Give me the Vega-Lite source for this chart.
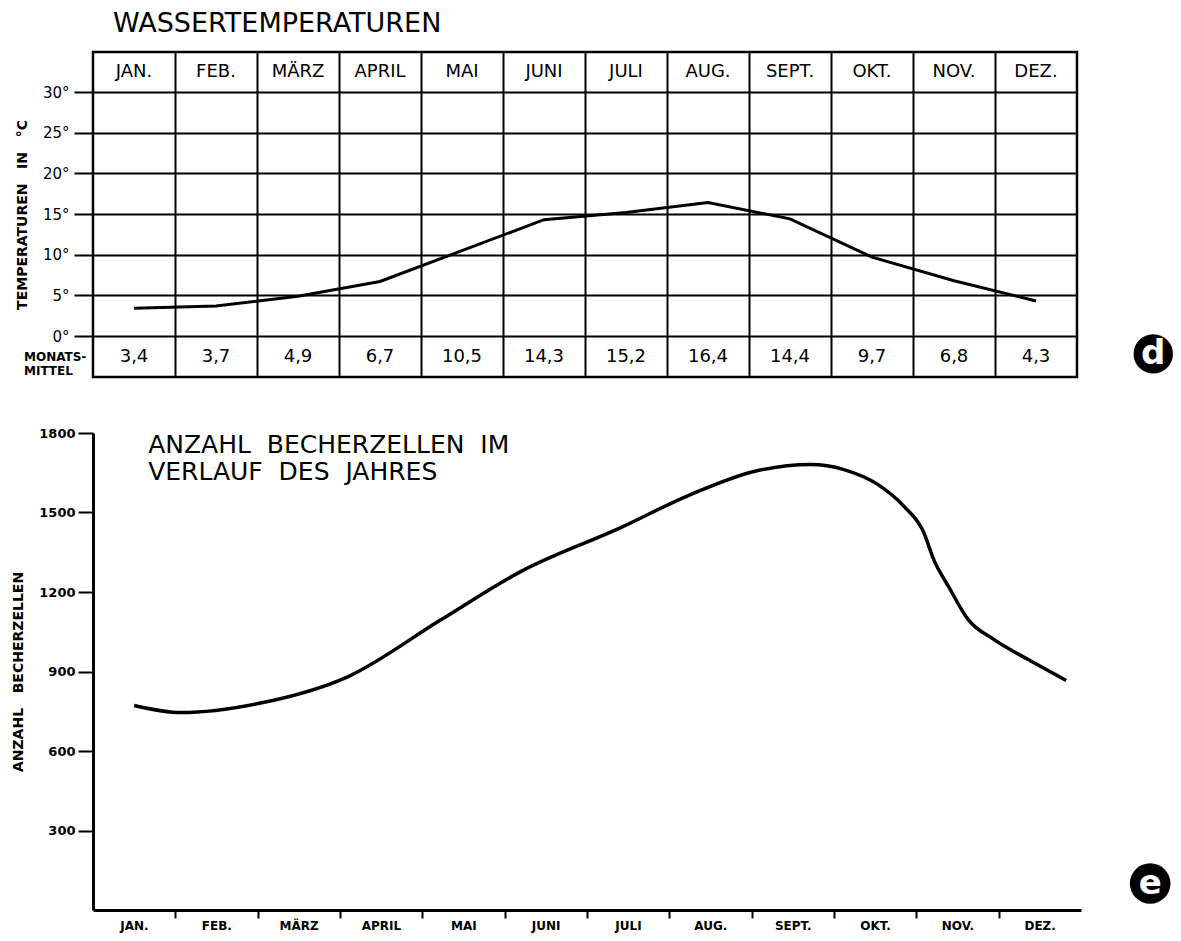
{
  "$schema": "https://vega.github.io/schema/vega-lite/v6.json",
  "background": "white",
  "padding": {"left": 11, "top": 8, "right": 2, "bottom": 2},
  "bounds": "flush",
  "spacing": 56,
  "config": {
    "font": "DejaVu Sans",
    "view": {"stroke": null},
    "axis": {"domainColor": "black", "tickColor": "black", "labelColor": "black", "titleColor": "black", "gridColor": "black", "labelFont": "DejaVu Sans", "titleFont": "DejaVu Sans"}
  },
  "datasets": {
    "temp": [
      {"m": 1, "month": "JAN.", "temp": 3.4, "label": "3,4"},
      {"m": 2, "month": "FEB.", "temp": 3.7, "label": "3,7"},
      {"m": 3, "month": "MÄRZ", "temp": 4.9, "label": "4,9"},
      {"m": 4, "month": "APRIL", "temp": 6.7, "label": "6,7"},
      {"m": 5, "month": "MAI", "temp": 10.5, "label": "10,5"},
      {"m": 6, "month": "JUNI", "temp": 14.3, "label": "14,3"},
      {"m": 7, "month": "JULI", "temp": 15.2, "label": "15,2"},
      {"m": 8, "month": "AUG.", "temp": 16.4, "label": "16,4"},
      {"m": 9, "month": "SEPT.", "temp": 14.4, "label": "14,4"},
      {"m": 10, "month": "OKT.", "temp": 9.7, "label": "9,7"},
      {"m": 11, "month": "NOV.", "temp": 6.8, "label": "6,8"},
      {"m": 12, "month": "DEZ.", "temp": 4.3, "label": "4,3"}
    ],
    "cells": [
      {"t": 1.0, "n": 772},
      {"t": 1.57, "n": 745},
      {"t": 2.52, "n": 780},
      {"t": 3.6, "n": 881},
      {"t": 4.73, "n": 1096},
      {"t": 5.7, "n": 1278},
      {"t": 6.91, "n": 1443},
      {"t": 7.73, "n": 1564},
      {"t": 8.53, "n": 1655},
      {"t": 9.22, "n": 1681},
      {"t": 9.62, "n": 1662},
      {"t": 10.03, "n": 1606},
      {"t": 10.35, "n": 1523},
      {"t": 10.59, "n": 1425},
      {"t": 10.71, "n": 1323},
      {"t": 10.89, "n": 1221},
      {"t": 11.13, "n": 1096},
      {"t": 11.44, "n": 1021},
      {"t": 11.86, "n": 945},
      {"t": 12.32, "n": 866}
    ]
  },
  "vconcat": [
    {
      "width": 984,
      "height": 325,
      "view": {"stroke": "black", "strokeWidth": 2.5},
      "title": {"text": "WASSERTEMPERATUREN", "anchor": "start", "frame": "group", "dx": 20, "fontSize": 27, "fontWeight": "normal", "offset": 14, "font": "DejaVu Sans", "color": "black"},
      "layer": [
        {
          "data": {"name": "temp"},
          "mark": {"type": "line", "color": "black", "strokeWidth": 3},
          "encoding": {
            "x": {
              "field": "m", "type": "quantitative",
              "scale": {"domain": [0.5, 12.5], "nice": false, "zero": false},
              "axis": {"orient": "top", "values": [1.5, 2.5, 3.5, 4.5, 5.5, 6.5, 7.5, 8.5, 9.5, 10.5, 11.5], "grid": true, "gridWidth": 2, "gridOpacity": 1, "labels": false, "ticks": false, "domain": false, "title": null}
            },
            "y": {
              "field": "temp", "type": "quantitative",
              "scale": {"domain": [-5.04, 34.92], "nice": false, "zero": false},
              "axis": {"values": [0, 5, 10, 15, 20, 25, 30], "grid": true, "gridWidth": 2, "gridOpacity": 1, "labelExpr": "datum.value + '°'", "tickSize": 19, "tickWidth": 2, "labelPadding": 5, "labelFontSize": 15, "domain": false, "title": "TEMPERATUREN\u00a0\u00a0\u00a0IN\u00a0\u00a0\u00a0°C", "titleFontSize": 14, "titleFontWeight": "bold", "titlePadding": 13}
            }
          }
        },
        {
          "data": {"name": "temp"},
          "mark": {"type": "text", "fontSize": 18, "baseline": "middle", "align": "center", "color": "black"},
          "encoding": {
            "x": {"field": "m", "type": "quantitative"},
            "y": {"datum": 32.46, "type": "quantitative"},
            "text": {"field": "month"}
          }
        },
        {
          "data": {"name": "temp"},
          "mark": {"type": "text", "fontSize": 18, "baseline": "middle", "align": "center", "color": "black"},
          "encoding": {
            "x": {"field": "m", "type": "quantitative"},
            "y": {"datum": -2.52, "type": "quantitative"},
            "text": {"field": "label"}
          }
        },
        {
          "data": {"values": [{}]},
          "mark": {"type": "text", "fontSize": 12, "fontWeight": "bold", "baseline": "middle", "align": "left", "lineBreak": "\n", "lineHeight": 14, "dx": -69, "color": "black"},
          "encoding": {
            "x": {"datum": 0.5, "type": "quantitative"},
            "y": {"datum": -2.52, "type": "quantitative"},
            "text": {"value": "MONATS-\nMITTEL"}
          }
        },
        {
          "data": {"values": [{}]},
          "mark": {"type": "point", "shape": "circle", "filled": true, "color": "black", "opacity": 1, "size": 1550},
          "encoding": {
            "x": {"datum": 13.43, "type": "quantitative"},
            "y": {"datum": -2.2, "type": "quantitative"}
          }
        },
        {
          "data": {"values": [{}]},
          "mark": {"type": "text", "fontSize": 34, "fontWeight": "bold", "baseline": "middle", "align": "center", "color": "white"},
          "encoding": {
            "x": {"datum": 13.43, "type": "quantitative"},
            "y": {"datum": -2.2, "type": "quantitative"},
            "text": {"value": "d"}
          }
        }
      ]
    },
    {
      "width": 988,
      "height": 477,
      "layer": [
        {
          "data": {"name": "cells"},
          "mark": {"type": "line", "color": "black", "strokeWidth": 3.5, "interpolate": "monotone"},
          "encoding": {
            "x": {
              "field": "t", "type": "quantitative",
              "scale": {"domain": [0.5, 12.5], "nice": false, "zero": false},
              "axis": {"values": [0.5, 1.5, 2.5, 3.5, 4.5, 5.5, 6.5, 7.5, 8.5, 9.5, 10.5, 11.5], "labelExpr": "['JAN.','FEB.','MÄRZ','APRIL','MAI','JUNI','JULI','AUG.','SEPT.','OKT.','NOV.','DEZ.'][floor(datum.value)]", "labelOffset": 41, "labelAlign": "center", "tickSize": 8, "tickWidth": 2, "tickOpacity": {"condition": {"test": "datum.value < 1", "value": 0}, "value": 1}, "domainWidth": 3, "labelFontWeight": "bold", "labelFontSize": 12, "labelPadding": 2, "title": null, "grid": false}
            },
            "y": {
              "field": "n", "type": "quantitative",
              "scale": {"domain": [0, 1800], "nice": false},
              "axis": {"values": [300, 600, 900, 1200, 1500, 1800], "format": "d", "tickSize": 15, "tickWidth": 2, "domainWidth": 3, "labelFontWeight": "bold", "labelFontSize": 13, "labelPadding": 3, "title": "ANZAHL\u00a0\u00a0\u00a0BECHERZELLEN", "titleFontSize": 14, "titleFontWeight": "bold", "titlePadding": 13, "grid": false}
            }
          }
        },
        {
          "data": {"values": [{}]},
          "mark": {"type": "text", "align": "left", "baseline": "top", "fontSize": 25, "lineHeight": 27, "lineBreak": "\n", "color": "black"},
          "encoding": {
            "x": {"datum": 1.17, "type": "quantitative"},
            "y": {"datum": 1800, "type": "quantitative"},
            "text": {"value": "ANZAHL\u00a0\u00a0BECHERZELLEN\u00a0\u00a0IM\nVERLAUF\u00a0\u00a0DES\u00a0\u00a0JAHRES"}
          }
        },
        {
          "data": {"values": [{}]},
          "mark": {"type": "point", "shape": "circle", "filled": true, "color": "black", "opacity": 1, "size": 1650},
          "encoding": {
            "x": {"datum": 13.34, "type": "quantitative"},
            "y": {"datum": 100, "type": "quantitative"}
          }
        },
        {
          "data": {"values": [{}]},
          "mark": {"type": "text", "fontSize": 34, "fontWeight": "bold", "baseline": "middle", "align": "center", "color": "white"},
          "encoding": {
            "x": {"datum": 13.34, "type": "quantitative"},
            "y": {"datum": 100, "type": "quantitative"},
            "text": {"value": "e"}
          }
        }
      ]
    }
  ]
}
